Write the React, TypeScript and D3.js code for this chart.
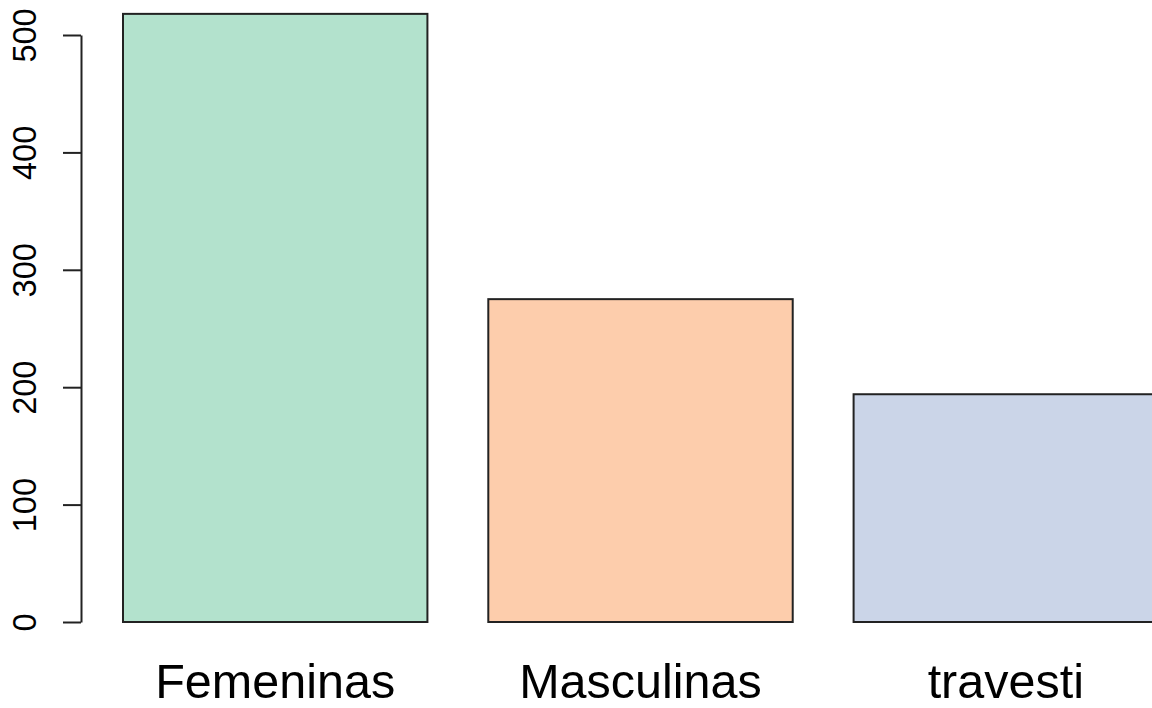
import React, { useEffect, useRef } from 'react';
import { select, scaleLinear, scaleBand, axisLeft } from 'd3';

const categories = ['Femeninas', 'Masculinas', 'travesti'];
const counts = [518, 275, 194];
const yTicks = [0, 100, 200, 300, 400, 500];
const colors = ['#B3E2CD', '#FDCDAC', '#CBD5E8'];

const width = 1152;
const height = 708;
const font = '"Liberation Sans", Arial, sans-serif';

const drawChart = (node: SVGSVGElement) => {
  const svg = select(node);
  svg.selectAll('*').remove();

  const step = 365.3;
  const xScale = scaleBand<string>()
    .domain(categories)
    .range([123, 123 + step * 3 - step / 6])
    .paddingInner(1 / 6)
    .paddingOuter(0);

  const yScale = scaleLinear()
    .domain([0, 500])
    .range([622, 35]);

  svg.selectAll('.bar')
    .data(counts)
    .enter()
    .append('rect')
    .attr('class', 'bar')
    .attr('x', (d, i) => xScale(categories[i]) as number)
    .attr('y', d => yScale(d))
    .attr('width', xScale.bandwidth())
    .attr('height', d => yScale(0) - yScale(d))
    .attr('fill', (d, i) => colors[i])
    .attr('stroke', '#222')
    .attr('stroke-width', 2);

  svg.selectAll('.xlabel')
    .data(categories)
    .enter()
    .append('text')
    .attr('class', 'xlabel')
    .attr('x', d => (xScale(d) as number) + xScale.bandwidth() / 2)
    .attr('y', 698)
    .attr('text-anchor', 'middle')
    .attr('font-family', font)
    .attr('font-size', 48.5)
    .attr('fill', '#000')
    .text(d => d);

  const yAxis = axisLeft(yScale)
    .tickValues(yTicks)
    .tickSize(18)
    .tickSizeOuter(0)
    .tickPadding(0);

  const g = svg.append('g')
    .attr('transform', 'translate(81,0)')
    .call(yAxis);

  g.select('.domain').attr('stroke', '#222').attr('stroke-width', 2);
  g.selectAll('.tick line').attr('stroke', '#222').attr('stroke-width', 2);
  g.selectAll('.tick text')
    .attr('x', null)
    .attr('dy', null)
    .attr('transform', 'translate(-45,0) rotate(-90)')
    .attr('text-anchor', 'middle')
    .attr('font-family', font)
    .attr('font-size', 32.5)
    .attr('fill', '#000');
};

const App = () => {
  const ref = useRef<SVGSVGElement>(null);

  useEffect(() => {
    if (ref.current) drawChart(ref.current);
  }, []);

  return (
    <svg
      ref={ref}
      width={width}
      height={height}
      style={{ position: 'absolute', left: 0, top: 0, background: '#fff' }}
    />
  );
};

export default App;
